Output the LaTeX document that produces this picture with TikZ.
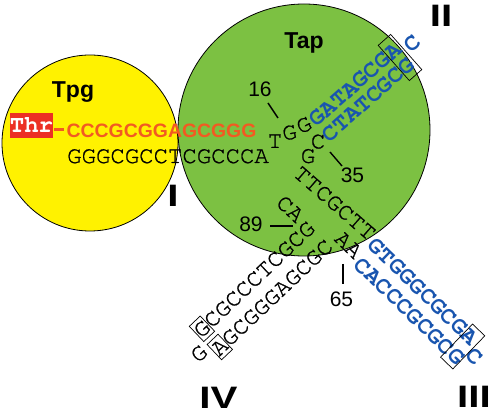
\documentclass[tikz,border=0pt]{standalone}
\usepackage{fontspec}
\setmainfont{Liberation Sans}
\newfontfamily\seqf{texgyrecursor}[Extension=.otf, UprightFont=*-regular, BoldFont=*-bold, UprightFeatures={FakeBold=0.9}]
\newfontfamily\labf{Liberation Sans}
\definecolor{yellowC}{RGB}{255,242,0}
\definecolor{greenC}{RGB}{124,193,66}
\definecolor{blueC}{RGB}{25,85,175}
\definecolor{orangeC}{RGB}{242,90,34}
\definecolor{thrC}{RGB}{236,48,36}
\begin{document}
\begin{tikzpicture}[x=1pt,y=-1pt,
  seq/.style={font=\seqf\fontsize{24}{28}\selectfont, inner sep=0pt, text height=13.7pt, text depth=0pt},
  bseq/.style={seq, font=\seqf\bfseries\fontsize{24}{28}\selectfont},
  blueseq/.style={bseq, text=blueC},
  orseq/.style={font=\labf\bfseries\fontsize{19.4}{24}\selectfont, inner sep=0pt, text=orangeC},
  pairbox/.style={draw=black, line width=0.7pt, inner sep=0pt},
  num/.style={font=\labf\fontsize{21}{24}\selectfont, inner sep=0pt, anchor=base},
  lbl/.style={font=\labf\bfseries\fontsize{23}{26}\selectfont, inner sep=0pt, anchor=base},
  rom/.style={font=\labf\bfseries\fontsize{31}{34}\selectfont, inner sep=0pt, anchor=base},
  tick/.style={line width=1.4pt, black},
  circ/.style={draw=black, line width=0.8pt}
]
\useasboundingbox (0,0) rectangle (496,414);

% circles
\path[circ, fill=yellowC] (90,143) circle[radius=88pt];
\path[circ, fill=greenC] (304,130) circle[radius=126pt];

% labels
\node[lbl] (tpg) at (73,98) {Tpg};
\node[lbl] (tap) at (304,49) {Tap};
\node[rom] (rI) at (173,207) {\scalebox{1.3}[1]{I}};
\node[rom] (rII) at (441,27) {\scalebox{1.3}[1]{II}};
\node[rom] (rIII) at (474,407.5) {\scalebox{1.3}[1]{III}};
\node[rom] (rIV) at (218.5,408.5) {\scalebox{1.3}[1]{IV}};

% Thr and stem I
\node[font=\seqf\bfseries\fontsize{24}{28}\selectfont, text=white, fill=thrC,
      inner sep=0pt, minimum width=43pt, minimum height=25pt,
      text height=13.7pt, text depth=0pt] (thr) at (31.5,125.5) {Thr};
\coordinate (d1) at (54,129.5);
\coordinate (d2) at (64,129.5);
\draw[orangeC, line width=3pt] (d1) -- (d2);
\node[orseq, anchor=base west] (s1top) at (66.5,138) {CCCGCGGAGCGGG};
\node[seq, anchor=base west] (s1bot) at (67,163) {GGGCGCCTCGCCCA};

% junction
\node[seq] (t15) at (275,141) {T};
\node[seq, rotate=12] (g16) at (289.5,132.5) {G};
\node[seq, rotate=28] (g17) at (304,125) {G};

% stem II
\node[blueseq, rotate=41.5] (s2top) at (355.25,84.5) {GATAGCGA};
\node[blueseq, rotate=41.5] (s2bot) at (368.5,99.75) {CTATCGCG};
\node[blueseq, rotate=41.5] (tip2) at (412,44) {C};
\node[pairbox, rotate=41.5, minimum width=16.6pt, minimum height=47pt] (box2) at (400,57.5) {};

% back down
\node[seq] (c35) at (318,141.5) {C};
\node[seq] (g36) at (308,156) {G};
\node[seq, rotate=-41] (ttc) at (334.75,203) {TTCGCTT};

% stem III
\node[blueseq, rotate=-44] (s3top) at (423,292) {GTGGGCGCGA};
\node[blueseq, rotate=-44] (s3bot) at (409.5,312) {CACCCGCGCG};
\node[blueseq, rotate=-44] (tip3) at (474.5,357) {C};
\node[pairbox, rotate=-44, minimum width=17pt, minimum height=46pt] (box3) at (462.7,346.5) {};

\node[seq, rotate=-44] (aa) at (348.5,245) {AA};

% stem IV
\node[seq, rotate=43.5] (s4up) at (254.25,279.25) {GCGCCCTCGCG};
\node[seq, rotate=43.5] (s4low) at (272,297.5) {AGCGGGAGCGC};
\node[seq, rotate=43.5] (tip4) at (199,353.5) {G};
\node[pairbox, rotate=43.5, minimum width=15pt, minimum height=21pt] (box4a) at (202,328.8) {};
\node[pairbox, rotate=43.5, minimum width=15pt, minimum height=21pt] (box4b) at (219.8,347) {};

\node[seq, rotate=-43] (ca) at (290.25,209) {CA};

% numbers and ticks
\node[num] (n16) at (260,97) {16};
\node[num] (n35) at (352.5,183) {35};
\node[num] (n89) at (251,232) {89};
\node[num] (n65) at (341.5,307) {65};
\coordinate (k16a) at (268,103); \coordinate (k16b) at (278,118);
\coordinate (k35a) at (330,152); \coordinate (k35b) at (342,166);
\coordinate (k89a) at (270,226); \coordinate (k89b) at (293,226);
\coordinate (k65a) at (343,264); \coordinate (k65b) at (343,284);
\draw[tick] (k16a) -- (k16b);
\draw[tick] (k35a) -- (k35b);
\draw[tick] (k89a) -- (k89b);
\draw[tick] (k65a) -- (k65b);
\end{tikzpicture}
\end{document}
